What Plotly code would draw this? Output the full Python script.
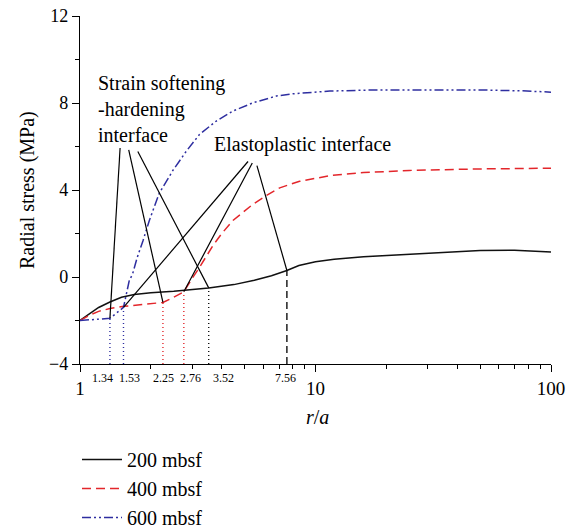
import numpy as np
import plotly.graph_objects as go

# ---- data ----
r_200 = [1, 1.1, 1.2, 1.34, 1.5, 1.7, 2.0, 2.5, 3.0, 3.52, 4.5, 5.5, 6.5, 7.56, 8.5, 10, 12, 16, 22, 30, 50, 70, 100]
s_200 = [-2.0, -1.68, -1.40, -1.15, -0.93, -0.80, -0.72, -0.65, -0.58, -0.50, -0.35, -0.15, 0.06, 0.30, 0.53, 0.70, 0.82, 0.93, 1.01, 1.09, 1.22, 1.23, 1.15]

r_400 = [1, 1.1, 1.2, 1.34, 1.53, 1.8, 2.0, 2.25, 2.5, 2.76, 3.0, 3.22, 3.67, 4.0, 4.46, 5.43, 6.2, 7.05, 8.56, 11.8, 16, 25, 50, 100]
s_400 = [-2.0, -1.75, -1.58, -1.45, -1.35, -1.28, -1.24, -1.17, -0.93, -0.68, -0.05, 0.45, 1.45, 2.0, 2.6, 3.35, 3.75, 4.1, 4.4, 4.68, 4.8, 4.9, 4.97, 5.0]

r_600 = [1, 1.2, 1.34, 1.53, 1.62, 1.67, 1.75, 1.85, 1.97, 2.17, 2.48, 2.83, 3.22, 3.79, 4.46, 5.43, 6.82, 8.0, 11.5, 18, 26, 50, 75, 100]
s_600 = [-2.0, -1.95, -1.90, -1.40, -0.15, 0.12, 0.9, 1.66, 2.6, 3.85, 4.9, 5.79, 6.56, 7.17, 7.63, 8.01, 8.32, 8.42, 8.55, 8.6, 8.6, 8.6, 8.56, 8.5]

series_names = ["200 mbsf", "400 mbsf", "600 mbsf"]

# interfaces (r/a values) and the series they sit on
ss_r = [1.34, 2.25, 3.52]          # strain softening-hardening interface
ss_series = [2, 1, 0]              # 600, 400, 200 mbsf
ep_r = [1.53, 2.76, 7.56]          # elastoplastic interface
ep_series = [2, 1, 0]

# where the leader lines start (under the text labels)
ss_start_r = [1.48, 1.61, 1.76]
ss_start_s = [5.93, 5.85, 5.77]
ep_start_r = [5.17, 5.39, 5.64]
ep_start_s = [5.31, 5.24, 5.12]

interface_labels = ["1.34", "1.53", "2.25", "2.76", "3.52", "7.56"]

x_major = [1, 10, 100]
x_minor = [2, 3, 4, 5, 6, 7, 8, 9, 20, 30, 40, 50, 60, 70, 80, 90]
y_major = [-4, 0, 4, 8, 12]
y_minor = [-2, 2, 6, 10]

# ---- styles ----
FONT = "Liberation Serif"
colors = ["#111111", "#e3262b", "#2e2ea0"]
dashes = ["solid", "9px,5px", "9px,3px,2px,3px,2px,3px"]
label_shift_px = [-7, 6, 1, 7, 15, -1]
R = [r_200, r_400, r_600]
S = [s_200, s_400, s_600]


def stress_at(idx, r):
    return float(np.interp(np.log10(r), np.log10(R[idx]), S[idx]))


fig = go.Figure()

# main curves
for i in range(3):
    fig.add_trace(go.Scatter(
        x=R[i], y=S[i], mode="lines", name=series_names[i],
        line=dict(color=colors[i], width=1.5, dash=dashes[i]),
        showlegend=True))

# leader lines
for starts_r, starts_s, rs, ser in [(ss_start_r, ss_start_s, ss_r, ss_series),
                                    (ep_start_r, ep_start_s, ep_r, ep_series)]:
    for x0, y0, r, idx in zip(starts_r, starts_s, rs, ser):
        fig.add_trace(go.Scatter(
            x=[x0, r], y=[y0, stress_at(idx, r)], mode="lines",
            line=dict(color="black", width=1.2), showlegend=False, hoverinfo="skip"))

# vertical drop lines
drop_r = [1.34, 1.53, 2.25, 2.76, 3.52, 7.56]
drop_series = [2, 2, 1, 1, 0, 0]
drop_dash = ["1px,3px", "1px,3px", "1px,3px", "1px,3px", "1px,3px", "7px,4px"]
for r, idx, d in zip(drop_r, drop_series, drop_dash):
    fig.add_trace(go.Scatter(
        x=[r, r], y=[-4, stress_at(idx, r)], mode="lines",
        line=dict(color=colors[idx], width=1.4, dash=d), showlegend=False, hoverinfo="skip"))

annotations = []
for r, lab, sh in zip(drop_r, interface_labels, label_shift_px):
    annotations.append(dict(x=np.log10(r), xref="x", y=-0.040, yref="paper", xshift=sh,
                            text=lab, showarrow=False, xanchor="center", yanchor="middle",
                            font=dict(family=FONT, size=12, color="black")))

annotations.append(dict(x=0.034, y=0.734, xref="paper", yref="paper",
                        text="Strain softening<br>-hardening<br>interface",
                        showarrow=False, xanchor="left", yanchor="middle", align="left",
                        font=dict(family=FONT, size=20, color="black")))
annotations.append(dict(x=0.280, y=0.630, xref="paper", yref="paper",
                        text="Elastoplastic interface",
                        showarrow=False, xanchor="left", yanchor="middle", align="left",
                        font=dict(family=FONT, size=20, color="black")))
# axis titles
annotations.append(dict(x=-0.1125, y=0.5, xref="paper", yref="paper",
                        text="Radial stress (MPa)", textangle=-90, showarrow=False,
                        xanchor="center", yanchor="middle",
                        font=dict(family=FONT, size=20, color="black")))
annotations.append(dict(x=0.505, y=-0.152, xref="paper", yref="paper",
                        text="<i>r</i>/<i>a</i>", showarrow=False,
                        xanchor="center", yanchor="middle",
                        font=dict(family=FONT, size=20, color="black")))

fig.update_layout(
    width=588, height=531,
    margin=dict(l=80, r=37, t=16, b=167, autoexpand=False),
    paper_bgcolor="white", plot_bgcolor="white",
    font=dict(family=FONT, size=18, color="black"),
    annotations=annotations,
    legend=dict(xref="container", yref="container",
                x=77 / 588, y=1 - 440 / 531, xanchor="left", yanchor="top",
                font=dict(family=FONT, size=20, color="black"),
                bgcolor="rgba(0,0,0,0)", itemwidth=40),
)

fig.update_xaxes(
    type="log", range=[0, 2], automargin=False,
    showline=True, linecolor="black", linewidth=1.3,
    showgrid=False, zeroline=False,
    tickmode="array", tickvals=x_major, ticktext=[str(v) for v in x_major],
    ticks="outside", ticklen=7, tickwidth=1.3, tickcolor="black",
    tickfont=dict(family=FONT, size=19, color="black"),
    minor=dict(tickmode="array", tickvals=x_minor, ticks="outside", ticklen=4,
               tickwidth=1.2, tickcolor="black", showgrid=False),
)
fig.update_yaxes(
    range=[-4, 12], automargin=False,
    showline=True, linecolor="black", linewidth=1.3,
    showgrid=False, zeroline=False,
    tickmode="array", tickvals=y_major,
    ticks="outside", ticklen=7, tickwidth=1.3, tickcolor="black",
    tickfont=dict(family=FONT, size=18, color="black"),
    minor=dict(tickmode="array", tickvals=y_minor, ticks="outside", ticklen=4,
               tickwidth=1.2, tickcolor="black", showgrid=False),
)

fig.write_html("out.html", config={"displayModeBar": False},
               post_script="document.body.style.margin='0';")
